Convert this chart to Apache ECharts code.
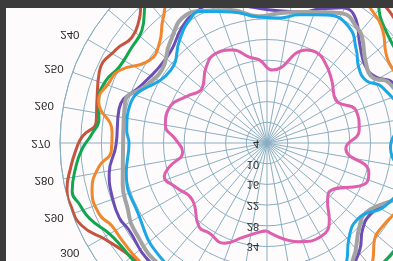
<!DOCTYPE html>
<html>
<head>
<meta charset="utf-8">
<script src="https://cdn.jsdelivr.net/npm/echarts@6/dist/echarts.min.js"></script>
<style>
  html, body { margin: 0; padding: 0; background: #3b3b3b; width: 393px; height: 261px; overflow: hidden; }
  #chart { position: absolute; left: 6px; top: 8px; width: 387px; height: 253px; background: #fdfbfb; transform: scaleY(-1); }
</style>
</head>
<body>
<div id="chart"></div>
<script>
// [radius, angle] pairs
var pink = [[29.5,0],[34.1,18],[35.3,30],[32.7,39],[28.4,46],[26.9,52],[35.0,68],[34.7,74],[26.9,86],[31.0,98],[31.5,110],[27.5,122],[30.1,134],[32.7,144],[33.9,152],[33.3,157],[25.2,176],[28.1,185],[29.5,192],[32.7,200],[33.9,210],[32.1,219],[28.6,230],[31.0,240],[34.1,250],[33.9,260],[30.4,268],[28.6,276],[33.3,284],[35.3,288],[33.3,296],[31.2,307],[35.3,321],[35.0,327],[35.6,337],[32.1,346],[29.8,356],[29.5,360]];
var blue = [[46,0],[47.5,15],[47,25],[45.3,34],[40.8,40],[38.4,51],[42.8,62],[44.5,75],[39.8,88],[43.5,100],[41.1,116],[38,122],[38.6,130],[41.3,136],[45.2,145],[44.9,155],[42.3,166],[40.4,174],[40.6,184],[43.3,195],[46.8,207],[46.2,212],[43.3,220],[39,233],[45.2,254],[44.8,265],[44,270],[45.7,282],[46.6,299],[49.2,316],[48.9,330],[46.9,345],[46,360]];
var gray = [[48,0],[48.5,15],[47,30],[46.2,36],[40.1,48],[39.1,55],[45,70],[44,85],[45,100],[43.5,116],[40,122],[40.9,129],[45.2,138],[46.2,141],[47.4,150],[44.9,158],[43.1,166],[41.9,174],[40.8,184],[43.9,195],[46.3,205],[47.9,212],[44.5,224],[41.1,235],[43,245],[46.8,254],[45.7,270],[47.5,286],[48.6,295],[50,303],[51,320],[49.8,340],[48,360]];
var purple = [[49.5,0],[50,15],[48,30],[45,41],[41.3,48],[40.5,56],[45,70],[45,85],[46,100],[44.3,116],[41,121],[40.2,128],[43.4,137],[48,144],[48.8,151],[46,158],[43.3,165],[42.5,175],[43,183],[45,192],[47.2,200],[47.2,208],[45.7,216],[42.6,226],[42.3,236],[44,245],[48,257],[47.8,271],[50.6,281],[51.5,289],[52,297],[51.3,302],[52.4,315],[52,330],[50,345],[49.5,360]];
var orange = [[52,0],[51,20],[49.8,42],[45.9,48],[45.3,54],[48,70],[50,90],[48,110],[46.3,121],[47.2,127],[50.7,134],[53.1,142],[55,150],[54,165],[53,185],[54,200],[54.1,214],[50.9,220],[46.6,227],[45.7,235],[51.8,244],[53,249],[54.3,256],[49,266],[49.2,273],[53.2,278],[56.5,285],[56.8,293],[55,298],[54.6,304],[54.4,313],[55,330],[53,345],[52,360]];
var green = [[55,0],[54,20],[52.4,47],[50,60],[52,90],[50,115],[50.4,129],[52.6,137],[55.8,143],[57,160],[56,180],[57,200],[58.1,220],[52.8,228],[52,235],[52.2,243],[54.1,249],[54.3,256],[53.2,262],[54.8,267],[57.7,272],[59.8,277],[62.2,284],[61.2,288],[59.9,293],[56.7,300],[55.7,306],[55.5,312],[56,330],[55,345],[55,360]];
var red = [[58,0],[57,20],[55,45],[57,70],[58,90],[56,115],[55,130],[56.5,140],[59,155],[58,180],[59,200],[59.1,221],[55.5,226],[53.7,232],[55.4,238],[56.8,247],[54.8,256],[53.9,263],[57.6,268],[59.4,272],[61.3,277],[63.5,283],[63.7,288],[62.8,294],[58.5,301],[55.8,308],[55,315],[57,330],[58,345],[58,360]];

var names = ['pink', 'blue', 'gray', 'purple', 'orange', 'green', 'red'];
var datas = [pink, blue, gray, purple, orange, green, red];
var colors = ['#dd5fae', '#1ba7e5', '#a3a3a3', '#6c4db3', '#f0872e', '#13a650', '#c5543e'];
var widths = [3, 3, 4, 3, 3, 3, 3];

var chart = echarts.init(document.getElementById('chart'));

var series = [];
for (var i = datas.length - 1; i >= 0; i--) {
    series.push({
        name: names[i],
        type: 'line',
        coordinateSystem: 'polar',
        smooth: true,
        showSymbol: false,
        lineStyle: { color: colors[i], width: widths[i] },
        data: datas[i]
    });
}

var option = {
    animation: false,
    polar: { center: [261, 118], radius: 207 },
    angleAxis: {
        type: 'value',
        min: 0,
        max: 360,
        interval: 10,
        startAngle: 90,
        clockwise: true,
        axisLine: { lineStyle: { color: '#8aaec2', width: 1 } },
        axisTick: { show: false },
        // lineHeight 1 keeps every label centred on its anchor
        axisLabel: { color: '#2a2a2a', fontSize: 11.5, fontFamily: 'Liberation Sans', margin: 9.5, lineHeight: 1 },
        splitLine: { show: true, lineStyle: { color: '#8aaec2', width: 1 } }
    },
    radiusAxis: {
        min: 4,
        max: 64,
        interval: 6,
        axisLine: { show: false },
        axisTick: { show: false },
        axisLabel: { color: '#2a2a2a', fontSize: 11, fontFamily: 'Liberation Sans', margin: 8 },
        splitLine: { show: true, lineStyle: { color: '#8aaec2', width: 1 } }
    },
    series: series
};
chart.setOption(option);
</script>
</body>
</html>
